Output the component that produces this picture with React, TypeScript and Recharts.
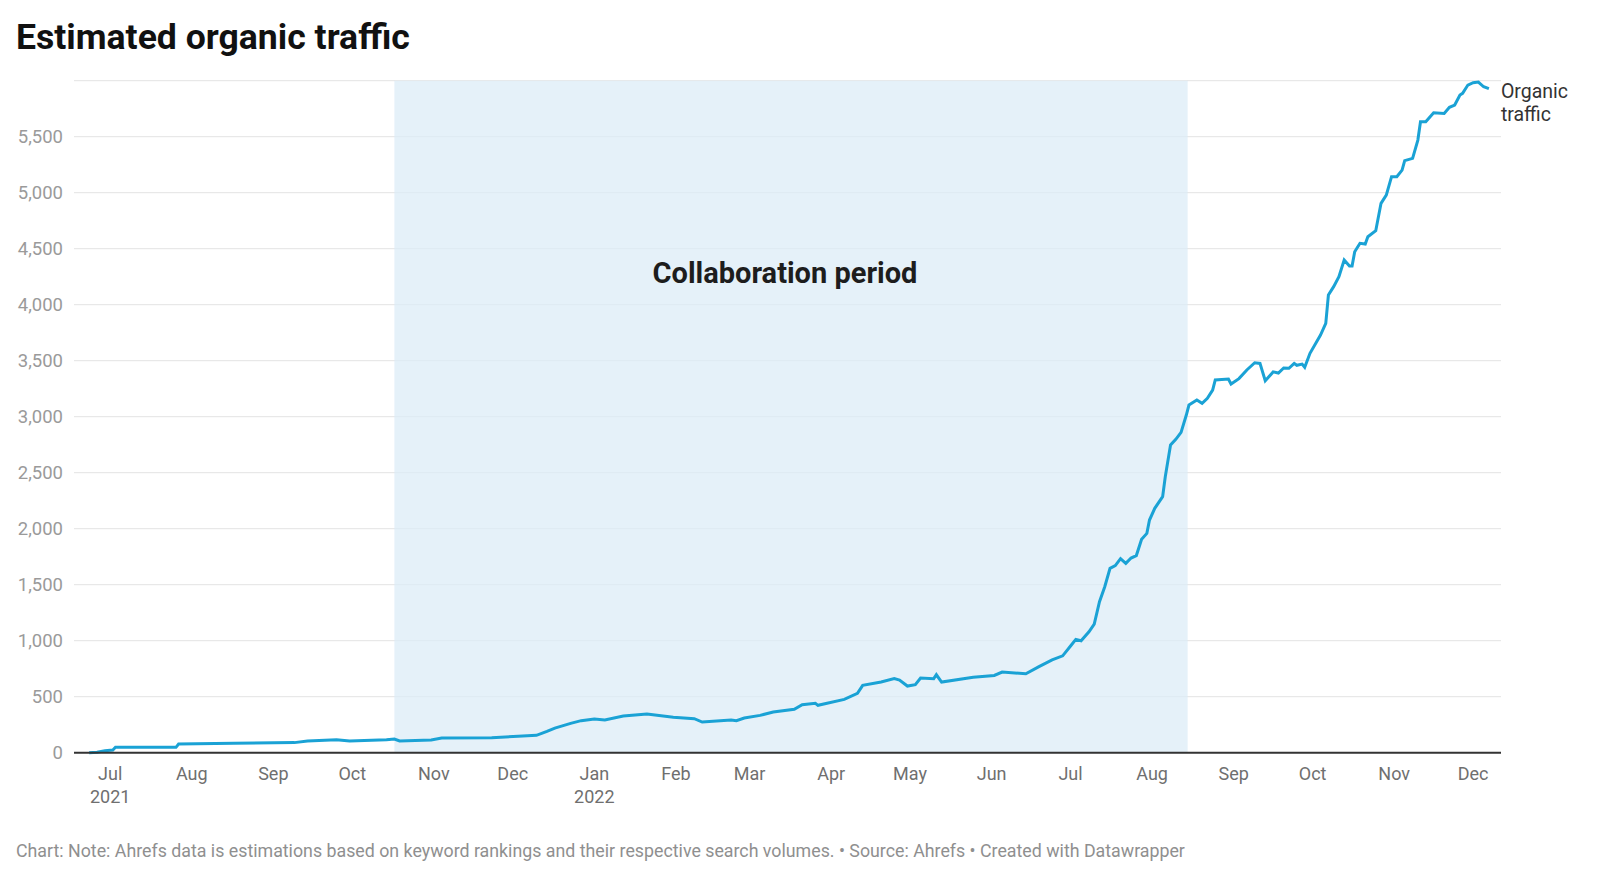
import { CartesianGrid, LabelList, Line, LineChart, ReferenceArea, XAxis, YAxis } from "recharts";

// days since 1 Jul 2021
const days = [
  -8, -5, -2, 1, 2, 25, 26, 47, 70, 75, 86, 91, 105, 108, 110, 122, 126, 145, 155, 162,
  166, 169, 175, 179, 184, 188, 195, 204, 214, 222, 225, 236, 238, 241, 247, 252, 260, 263, 268, 269,
  279, 284, 286, 293, 298, 300, 303, 306, 308, 313, 314, 316, 328, 336, 339, 348, 353, 358, 362, 365,
  367, 369, 372, 374, 376, 378, 380, 382, 384, 386, 388, 390, 392, 394, 395, 397, 400, 401, 403, 405,
  407, 409, 410, 413, 415, 417, 419, 420, 425, 426, 429, 432, 435, 437, 439, 442, 444, 446, 448, 450,
  451, 453, 454, 456, 460, 462, 463, 465, 467, 469, 471, 472, 473, 475, 477, 478, 481, 483, 485, 487,
  489, 491, 492, 495, 497, 498, 500, 503, 507, 509, 511, 513, 514, 516, 518, 520, 522, 524,
];
const traffic = [
  0, 5, 18, 24, 48, 48, 78, 84, 90, 105, 116, 105, 116, 122, 105, 113, 131, 134, 146, 155,
  190, 220, 262, 286, 300, 292, 327, 345, 316, 304, 274, 292, 286, 310, 333, 363, 387, 429, 441, 423,
  476, 530, 601, 631, 661, 649, 595, 607, 667, 661, 696, 631, 673, 690, 720, 705, 768, 828, 865, 953,
  1012, 1000, 1080, 1149, 1348, 1482, 1646, 1670, 1732, 1690, 1738, 1760, 1905, 1958, 2077, 2182, 2286, 2464, 2747, 2798,
  2860, 3015, 3104, 3149, 3119, 3164, 3238, 3328, 3337, 3292, 3340, 3417, 3482, 3476, 3321, 3400, 3390, 3435, 3432, 3476,
  3459, 3470, 3441, 3566, 3729, 3833, 4086, 4161, 4250, 4399, 4345, 4345, 4473, 4548, 4542, 4607, 4661, 4905, 4979, 5143,
  5143, 5202, 5286, 5307, 5470, 5634, 5634, 5714, 5708, 5762, 5783, 5872, 5887, 5961, 5982, 5988, 5946, 5929,
];

const monthTicks = [0, 31, 62, 92, 123, 153, 184, 215, 243, 274, 304, 335, 365, 396, 427, 457, 488, 518];
const monthLabels = ["Jul", "Aug", "Sep", "Oct", "Nov", "Dec", "Jan", "Feb", "Mar", "Apr", "May", "Jun", "Jul", "Aug", "Sep", "Oct", "Nov", "Dec"];
const yearLabels = ["2021", "", "", "", "", "", "2022", "", "", "", "", "", "", "", "", "", "", ""];
const yTicks = [0, 500, 1000, 1500, 2000, 2500, 3000, 3500, 4000, 4500, 5000, 5500];

const collabStart = 108;
const collabEnd = 409.5;

const data = days.map((d, i) => ({ day: d, traffic: traffic[i] }));

function MonthTick({ x, y, payload }: any) {
  const i = monthTicks.indexOf(payload.value);
  return (
    <g>
      <text x={x} y={y} dy={27} textAnchor="middle" fill="#6f6f6f" fontSize={18}>
        {monthLabels[i]}
      </text>
      {yearLabels[i] && (
        <text x={x} y={y} dy={50} textAnchor="middle" fill="#6f6f6f" fontSize={18}>
          {yearLabels[i]}
        </text>
      )}
    </g>
  );
}

function SeriesLabel({ x, y, index }: any) {
  if (index !== data.length - 1) return null;
  return (
    <text x={x + 12} y={y} fill="#333" fontSize={19.5}>
      <tspan x={x + 12} dy={9.5}>Organic</tspan>
      <tspan x={x + 12} dy={22.5}>traffic</tspan>
    </text>
  );
}

function CollabLabel({ viewBox }: any) {
  return (
    <text x={viewBox.x + viewBox.width / 2 - 6} y={viewBox.y + 202} textAnchor="middle" fill="#1d1d1d" fontSize={29} fontWeight={700}>
      Collaboration period
    </text>
  );
}

export default function App() {
  return (
    <div style={{ position: "relative", width: 1600, height: 879, background: "#fff", fontFamily: "Roboto, sans-serif" }}>
      <style>{`body{margin:0}`}</style>
      <div style={{ position: "absolute", left: 16, top: 19.5, fontSize: 35.6, lineHeight: 1, fontWeight: 700, color: "#111" }}>
        Estimated organic traffic
      </div>
      <LineChart width={1600} height={879} data={data} margin={{ top: 80.7, right: 99, bottom: 66.3, left: 14 }}>
        <CartesianGrid horizontal vertical={false} stroke="#e3e3e3" />
        <ReferenceArea
          x1={collabStart}
          x2={collabEnd}
          y1={0}
          y2={6000}
          fill="#dbecf6"
          fillOpacity={0.72}
          stroke="none"
          label={<CollabLabel />}
        />
        <XAxis
          dataKey="day"
          type="number"
          domain={[-13.76, 528.6]}
          allowDataOverflow
          ticks={monthTicks}
          interval={0}
          tickLine={false}
          tickSize={0}
          tickMargin={0}
          height={60}
          axisLine={{ stroke: "#333", strokeWidth: 2 }}
          tick={<MonthTick />}
        />
        <YAxis
          type="number"
          domain={[0, 6000]}
          ticks={yTicks}
          interval={0}
          width={60}
          axisLine={false}
          tickLine={false}
          tickSize={0}
          tickMargin={11}
          tick={{ fill: "#9a9a9a", fontSize: 18.5 }}
          tickFormatter={(v: number) => v.toLocaleString("en-US")}
        />
        <Line
          type="linear"
          dataKey="traffic"
          stroke="#1aa2d5"
          strokeWidth={3}
          dot={false}
          isAnimationActive={false}
        >
          <LabelList dataKey="traffic" content={<SeriesLabel />} />
        </Line>
      </LineChart>
      <div style={{ position: "absolute", left: 16, top: 841, fontSize: 17.8, lineHeight: "20px", color: "#8f8f8f" }}>
        Chart: Note: Ahrefs data is estimations based on keyword rankings and their respective search volumes. • Source: Ahrefs • Created with Datawrapper
      </div>
    </div>
  );
}
